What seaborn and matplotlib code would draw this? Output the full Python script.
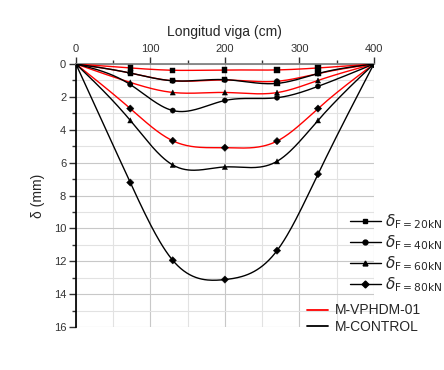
import numpy as np
import pandas as pd
import seaborn as sns
import matplotlib
matplotlib.use("Agg")
import matplotlib.pyplot as plt
from matplotlib.lines import Line2D
from matplotlib.ticker import MultipleLocator

# beam positions (cm)
POS = [0, 73, 130, 200, 270, 325, 400]

# deflections (mm) — M-VPHDM-01 (red)
VPH_20 = [0, 0.24, 0.38, 0.36, 0.36, 0.24, 0]
VPH_40 = [0, 0.55, 1.02, 0.97, 1.05, 0.58, 0]
VPH_60 = [0, 1.12, 1.73, 1.73, 1.74, 1.00, 0]
VPH_80 = [0, 2.71, 4.67, 5.09, 4.69, 2.71, 0]

# deflections (mm) — M-CONTROL (black)
CTL_20 = [0, 0.55, 1.02, 0.95, 1.18, 0.58, 0]
CTL_40 = [0, 1.25, 2.83, 2.22, 2.05, 1.36, 0]
CTL_60 = [0, 3.43, 6.14, 6.26, 5.92, 3.43, 0]
CTL_80 = [0, 7.21, 11.94, 13.11, 11.35, 6.70, 0]

LOADS = ["20", "40", "60", "80"]
MARKERS = {"20": "s", "40": "o", "60": "^", "80": "D"}
BEAMS = {"M-VPHDM-01": ([VPH_20, VPH_40, VPH_60, VPH_80], "#ff0000"),
         "M-CONTROL": ([CTL_20, CTL_40, CTL_60, CTL_80], "black")}


def natural_spline(x, y, n=200):
    """Natural cubic spline through the points, for drawing smooth lines."""
    x = np.asarray(x, float)
    y = np.asarray(y, float)
    k = len(x)
    h = np.diff(x)
    A = np.zeros((k, k))
    b = np.zeros(k)
    A[0, 0] = A[-1, -1] = 1
    for i in range(1, k - 1):
        A[i, i - 1] = h[i - 1]
        A[i, i] = 2 * (h[i - 1] + h[i])
        A[i, i + 1] = h[i]
        b[i] = 3 * ((y[i + 1] - y[i]) / h[i] - (y[i] - y[i - 1]) / h[i - 1])
    c = np.linalg.solve(A, b)
    xs = np.linspace(x[0], x[-1], n)
    idx = np.clip(np.searchsorted(x, xs, side="right") - 1, 0, k - 2)
    dx = xs - x[idx]
    bb = (y[idx + 1] - y[idx]) / h[idx] - h[idx] * (2 * c[idx] + c[idx + 1]) / 3
    d = (c[idx + 1] - c[idx]) / (3 * h[idx])
    ys = y[idx] + bb * dx + c[idx] * dx ** 2 + d * dx ** 3
    return xs, ys


rows = []
for beam, (series, _) in BEAMS.items():
    for load, vals in zip(LOADS, series):
        for p, v in zip(POS, vals):
            rows.append({"beam": beam, "load": load, "pos": p, "defl": v})
df = pd.DataFrame(rows)

sns.set_theme(style="white")
plt.rcParams["font.family"] = ["Liberation Sans", "DejaVu Sans"]

fig = plt.figure(figsize=(4.44, 3.70), dpi=100)
ax = fig.add_axes([0.171, 0.116, 0.671, 0.711])

for beam, (series, color) in BEAMS.items():
    for load, vals in zip(LOADS, series):
        xs, ys = natural_spline(POS, vals)
        ax.plot(xs, ys, color=color, lw=1.0, zorder=3)
    sub = df[df["beam"] == beam]
    sns.scatterplot(data=sub, x="pos", y="defl", style="load", markers=MARKERS,
                    color="black", s=14, edgecolor="black", linewidth=0.3,
                    legend=False, ax=ax, zorder=4)

ax.set_xlim(0, 400)
ax.set_ylim(16, 0)
ax.xaxis.set_major_locator(MultipleLocator(100))
ax.xaxis.set_minor_locator(MultipleLocator(50))
ax.yaxis.set_major_locator(MultipleLocator(2))
ax.yaxis.set_minor_locator(MultipleLocator(1))
ax.xaxis.tick_top()
ax.xaxis.set_label_position("top")
ax.tick_params(axis="x", which="both", top=True, bottom=False, direction="out",
               labelsize=8, colors="#333333", pad=2)
ax.tick_params(axis="y", which="both", left=True, direction="out",
               labelsize=8, colors="#333333", pad=2)
ax.tick_params(which="major", length=5, width=1)
ax.tick_params(which="minor", length=3, width=1)
ax.grid(True, which="major", color="#c8c8c8", lw=0.8)
ax.grid(True, which="minor", color="#e2e2e2", lw=0.8)
ax.set_axisbelow(True)

for side in ["right", "bottom"]:
    ax.spines[side].set_visible(False)
ax.spines["top"].set_color("#7f7f7f")
ax.spines["left"].set_color("black")

ax.set_xlabel("Longitud viga (cm)", fontsize=10, labelpad=6)
ax.set_ylabel("δ (mm)", fontsize=10, labelpad=6)

load_handles = [Line2D([], [], color="black", lw=1, marker=MARKERS[l], markersize=3.5)
                for l in LOADS]
load_labels = [r"$\delta_{\mathrm{F=%skN}}$" % l for l in LOADS]
fig.legend(load_handles, load_labels, loc="upper left",
           bbox_to_anchor=(0.775, 0.442), frameon=False, fontsize=11,
           handlelength=2.0, labelspacing=0.15, handletextpad=0.3,
           borderaxespad=0)

beam_handles = [Line2D([], [], color=c, lw=1.3) for _, (_, c) in BEAMS.items()]
fig.legend(beam_handles, list(BEAMS.keys()), loc="upper left",
           bbox_to_anchor=(0.68, 0.195), frameon=False, fontsize=10,
           handlelength=1.5, labelspacing=0.2, handletextpad=0.5,
           borderaxespad=0)

fig.savefig("out.png", dpi=100)
